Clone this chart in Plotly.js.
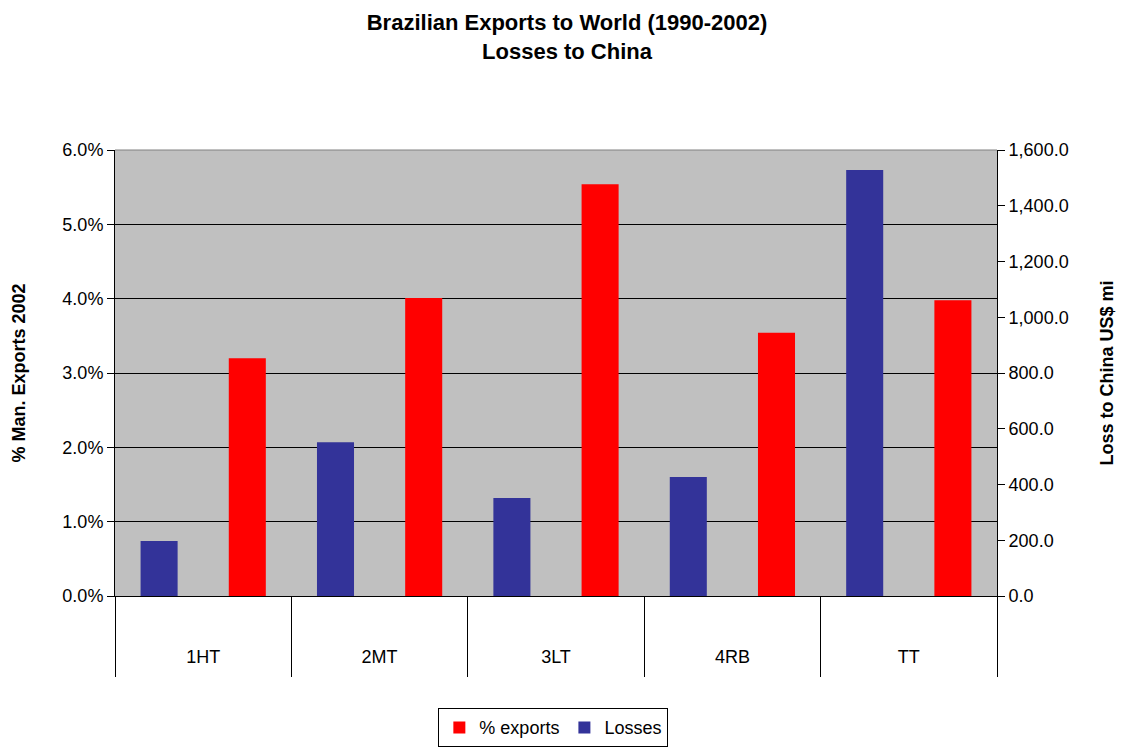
<!DOCTYPE html>
<html>
<head>
<meta charset="utf-8">
<script src="https://cdn.plot.ly/plotly-3.0.1.min.js"></script>
<style>html,body{margin:0;padding:0;background:#fff;}#chart{width:1121px;height:751px;}</style>
</head>
<body>
<div id="chart"></div>
<script>
const categories = ["1HT", "2MT", "3LT", "4RB", "TT"];
const pctExports = [3.20, 4.01, 5.54, 3.54, 3.98];
const losses = [197, 552, 352, 427, 1528];
const leftTicks = [0, 1, 2, 3, 4, 5, 6];
const rightTicks = [0, 200, 400, 600, 800, 1000, 1200, 1400, 1600];

const FONT = "'Liberation Sans', Arial, sans-serif";

const traces = [
  {
    type: "bar", name: "% exports", x: categories, y: pctExports,
    yaxis: "y", marker: {color: "#FF0000"},
    width: 0.21, offset: 0.145, hoverinfo: "x+y"
  },
  {
    type: "bar", name: "Losses", x: categories, y: losses,
    yaxis: "y2", marker: {color: "#333399"},
    width: 0.21, offset: -0.355, hoverinfo: "x+y"
  }
];

const layout = {
  width: 1121, height: 751,
  margin: {l: 115, r: 124, t: 150, b: 155},
  paper_bgcolor: "#FFFFFF",
  plot_bgcolor: "#C0C0C0",
  font: {family: FONT, size: 18, color: "#000"},
  showlegend: true,
  title: {
    text: "<b>Brazilian Exports to World (1990-2002)<br>Losses to China</b>",
    font: {family: FONT, size: 22, color: "#000"},
    x: 0.5125, xref: "paper", xanchor: "center",
    y: 0.96, yref: "container", yanchor: "top"
  },
  xaxis: {
    type: "category",
    range: [-0.5, 4.5],
    tickson: "boundaries",
    ticks: "outside", ticklen: 80, tickwidth: 1, tickcolor: "#000",
    ticklabelstandoff: 44,
    showline: true, linecolor: "#000", linewidth: 1,
    showgrid: false, zeroline: false, automargin: false,
    tickfont: {family: FONT, size: 18, color: "#000"}
  },
  yaxis: {
    range: [0, 6],
    tickvals: leftTicks,
    ticktext: leftTicks.map(v => v.toFixed(1) + "%"),
    ticks: "outside", ticklen: 7, tickcolor: "#000",
    showline: true, linecolor: "#000", linewidth: 1,
    showgrid: true, gridcolor: "#000", gridwidth: 1,
    zeroline: false, automargin: false,
    tickfont: {family: FONT, size: 18, color: "#000"},
    title: {text: "<b>% Man. Exports 2002</b>", font: {family: FONT, size: 18, color: "#000"}, standoff: 32}
  },
  yaxis2: {
    overlaying: "y", side: "right",
    range: [0, 1600],
    tickvals: rightTicks,
    tickformat: ",.1f",
    ticks: "outside", ticklen: 7, tickcolor: "#000",
    showline: true, linecolor: "#000", linewidth: 1,
    showgrid: false, zeroline: false, automargin: false,
    tickfont: {family: FONT, size: 18, color: "#000"},
    title: {text: "<b>Loss to China US$ mi</b>", font: {family: FONT, size: 18, color: "#000"}, standoff: 32}
  },
  legend: {
    orientation: "h",
    x: 0.497, xanchor: "center", xref: "paper",
    y: 0.057, yanchor: "top", yref: "container",
    bordercolor: "#000", borderwidth: 1,
    bgcolor: "#FFFFFF",
    font: {family: FONT, size: 18, color: "#000"},
    traceorder: "normal"
  },
  shapes: [
    {type: "line", xref: "paper", yref: "paper", x0: 0, x1: 1, y0: 1, y1: 1, line: {color: "#808080", width: 1}}
  ]
};

Plotly.newPlot("chart", traces, layout, {displayModeBar: false, staticPlot: true});
</script>
</body>
</html>
